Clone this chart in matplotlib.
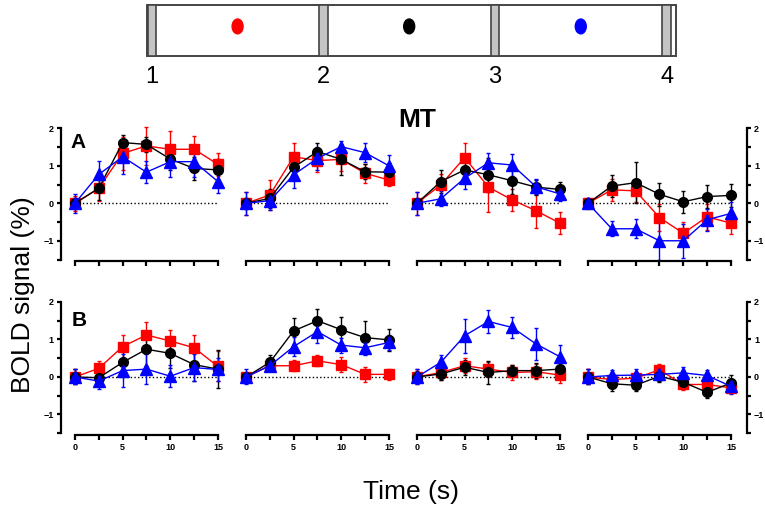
import matplotlib.pyplot as plt
from matplotlib.patches import Rectangle, Ellipse
from matplotlib.ticker import MultipleLocator

plt.rcParams['font.family'] = ['Liberation Sans', 'DejaVu Sans']

# time points (s)
time_s = [0, 2.5, 5, 7.5, 10, 12.5, 15]

# row A, one list per column (1..4)
red_A = [[0, 0.40, 1.33, 1.53, 1.44, 1.44, 1.04],
         [0, 0.22, 1.24, 1.14, 1.17, 0.80, 0.62],
         [0, 0.49, 1.22, 0.43, 0.09, -0.20, -0.53],
         [0, 0.36, 0.33, -0.38, -0.80, -0.36, -0.53]]
black_A = [[0, 0.40, 1.62, 1.57, 1.18, 0.93, 0.89],
           [0, 0.13, 0.96, 1.38, 1.17, 0.84, 0.83],
           [0, 0.58, 0.89, 0.76, 0.60, 0.43, 0.37],
           [0, 0.46, 0.55, 0.24, 0.04, 0.18, 0.21]]
blue_A = [[0, 0.77, 1.24, 0.83, 1.11, 1.11, 0.58],
          [0, 0.07, 0.76, 1.20, 1.51, 1.35, 1.00],
          [0, 0.12, 0.67, 1.08, 1.02, 0.44, 0.25],
          [0, -0.68, -0.68, -1.00, -1.00, -0.44, -0.27]]

# row B
red_B = [[0, 0.23, 0.81, 1.12, 0.96, 0.78, 0.28],
         [0, 0.30, 0.30, 0.43, 0.33, 0.07, 0.07],
         [0, 0.12, 0.30, 0.21, 0.12, 0.14, 0.05],
         [0, -0.07, -0.03, 0.19, -0.20, -0.20, -0.29]]
black_B = [[0, -0.02, 0.39, 0.74, 0.63, 0.33, 0.21],
           [0, 0.39, 1.23, 1.50, 1.26, 1.05, 0.99],
           [0, 0.08, 0.26, 0.12, 0.17, 0.17, 0.21],
           [0, -0.18, -0.22, 0.02, -0.14, -0.41, -0.16]]
blue_B = [[0, -0.11, 0.17, 0.21, 0.02, 0.25, 0.20],
          [0, 0.30, 0.81, 1.21, 0.85, 0.78, 0.92],
          [0, 0.39, 1.10, 1.48, 1.32, 0.88, 0.54],
          [0, 0.04, 0.05, 0.07, 0.11, 0.04, -0.25]]

# SEM
red_A_err = [[0.2, 0.35, 0.45, 0.5, 0.5, 0.35, 0.3],
             [0.3, 0.4, 0.38, 0.3, 0.3, 0.25, 0.15],
             [0.3, 0.3, 0.4, 0.65, 0.3, 0.45, 0.3],
             [0.15, 0.3, 0.3, 0.35, 0.3, 0.35, 0.3]]
black_A_err = [[0.15, 0.3, 0.2, 0.2, 0.3, 0.3, 0.3],
               [0.15, 0.25, 0.3, 0.22, 0.42, 0.2, 0.25],
               [0.1, 0.3, 0.35, 0.45, 0.35, 0.2, 0.2],
               [0.1, 0.3, 0.55, 0.3, 0.3, 0.3, 0.3]]
blue_A_err = [[0.25, 0.35, 0.45, 0.3, 0.4, 0.4, 0.3],
              [0.3, 0.25, 0.35, 0.3, 0.15, 0.25, 0.3],
              [0.3, 0.2, 0.3, 0.25, 0.3, 0.2, 0.2],
              [0.1, 0.2, 0.25, 0.5, 0.45, 0.3, 0.3]]
red_B_err = [[0.2, 0.2, 0.3, 0.35, 0.3, 0.35, 0.4],
             [0.1, 0.15, 0.15, 0.15, 0.2, 0.2, 0.15],
             [0.2, 0.2, 0.2, 0.2, 0.2, 0.2, 0.2],
             [0.2, 0.15, 0.15, 0.15, 0.15, 0.15, 0.15]]
black_B_err = [[0.2, 0.2, 0.4, 0.45, 0.4, 0.45, 0.5],
               [0.1, 0.2, 0.35, 0.3, 0.35, 0.45, 0.3],
               [0.15, 0.15, 0.2, 0.3, 0.15, 0.2, 0.15],
               [0.2, 0.2, 0.15, 0.15, 0.15, 0.15, 0.2]]
blue_B_err = [[0.2, 0.2, 0.45, 0.4, 0.3, 0.35, 0.3],
              [0.2, 0.15, 0.25, 0.3, 0.2, 0.2, 0.2],
              [0.2, 0.2, 0.45, 0.3, 0.28, 0.42, 0.3],
              [0.2, 0.15, 0.15, 0.15, 0.15, 0.15, 0.2]]

# stimulus schematic
stim_labels = ['1', '2', '3', '4']
stim_pos = [1, 2, 3, 4]
dot_pos = [1.5, 2.5, 3.5]
dot_colors = ['#ff0000', '#000000', '#0000ff']

W, H = 765, 514
fig = plt.figure(figsize=(W / 100, H / 100), dpi=100)


def px_rect(left, top, width, height):
    return [left / W, 1 - (top + height) / H, width / W, height / H]


# --- schematic on top ---
axs = fig.add_axes(px_rect(147, 5, 529, 51))
axs.set_xlim(0.972, 4.055)
axs.set_ylim(0, 1)
axs.axis('off')
axs.add_patch(Rectangle((0.972, 0), 4.055 - 0.972, 1, fill=False,
                        edgecolor='#444444', lw=1.4, clip_on=False))
for p, lab in zip(stim_pos, stim_labels):
    axs.add_patch(Rectangle((p - 0.025, 0), 0.05, 1, facecolor='#c4c4c4',
                            edgecolor='#444444', lw=1.2, clip_on=False))
    axs.text(p, -0.42, lab, ha='center', va='center', fontsize=17)
for p, c in zip(dot_pos, dot_colors):
    axs.add_patch(Ellipse((p, 0.58), 0.064, 0.29, color=c))

# --- panels ---
colors = ['#ff0000', '#000000', '#0000ff']
markers = ['s', 'o', '^']
msizes = [6.5, 7, 8.5]
rows = [(red_A, black_A, blue_A, red_A_err, black_A_err, blue_A_err),
        (red_B, black_B, blue_B, red_B_err, black_B_err, blue_B_err)]
row_tops = [120.8, 294.5]

for r, (rd, bk, bl, rde, bke, ble) in enumerate(rows):
    for c in range(4):
        ax = fig.add_axes(px_rect(68.3 + 171 * c, row_tops[r], 156.3, 140.6))
        ax.set_xlim(-0.7, 15.7)
        ax.set_ylim(-1.55, 2.2)
        ax.patch.set_alpha(0)
        ax.hlines(0, time_s[0], time_s[-1], colors='black', linestyles=':', lw=1)
        series = [(rd[c], rde[c]), (bk[c], bke[c]), (bl[c], ble[c])]
        for (vals, errs), col, m, ms in zip(series, colors, markers, msizes):
            ax.errorbar(time_s, vals, yerr=errs, color=col, marker=m, ms=ms,
                        lw=1, elinewidth=1, capsize=1.5, clip_on=False)

        for s in ['top', 'right', 'left']:
            ax.spines[s].set_visible(False)
        ax.spines['bottom'].set_bounds(0, 15)
        ax.spines['bottom'].set_linewidth(1.6)
        ax.set_xticks([0, 5, 10, 15])
        ax.xaxis.set_minor_locator(MultipleLocator(2.5))
        ax.tick_params(axis='x', which='both', direction='out', length=3.5,
                       width=1.6, labelsize=6.5, pad=2, labelbottom=(r == 1))
        for t in ax.get_xticklabels():
            t.set_fontweight('bold')

        ax.set_yticks([-1, 0, 1, 2])
        ax.yaxis.set_minor_locator(MultipleLocator(0.5))
        if c == 0:
            ax.spines['left'].set_visible(True)
            ax.spines['left'].set_position(('outward', 5.3))
            ax.spines['left'].set_bounds(-1.5, 2)
            ax.spines['left'].set_linewidth(1.6)
            ax.tick_params(axis='y', which='both', direction='out', length=3,
                           width=1.6, labelsize=6.5, pad=2)
        elif c == 3:
            ax.spines['right'].set_visible(True)
            ax.spines['right'].set_position(('outward', 6.8))
            ax.spines['right'].set_bounds(-1.5, 2)
            ax.spines['right'].set_linewidth(1.6)
            ax.yaxis.tick_right()
            ax.tick_params(axis='y', which='both', direction='out', length=3,
                           width=1.6, labelsize=6.5, pad=2)
        else:
            ax.tick_params(axis='y', which='both', left=False, labelleft=False)
        for t in ax.get_yticklabels():
            t.set_fontweight('bold')

fig.text(78 / W, 1 - 143 / H, 'A', fontsize=15, fontweight='bold',
         ha='center', va='center')
fig.text(79 / W, 1 - 320 / H, 'B', fontsize=15, fontweight='bold',
         ha='center', va='center')
fig.text(417 / W, 1 - 120 / H, 'MT', fontsize=19, fontweight='bold',
         ha='center', va='center')
fig.text(23 / W, 1 - 295 / H, 'BOLD signal (%)', fontsize=19,
         rotation=90, ha='center', va='center')
fig.text(411 / W, 1 - 492 / H, 'Time (s)', fontsize=19,
         ha='center', va='center')

fig.savefig('out.png', dpi=100)
